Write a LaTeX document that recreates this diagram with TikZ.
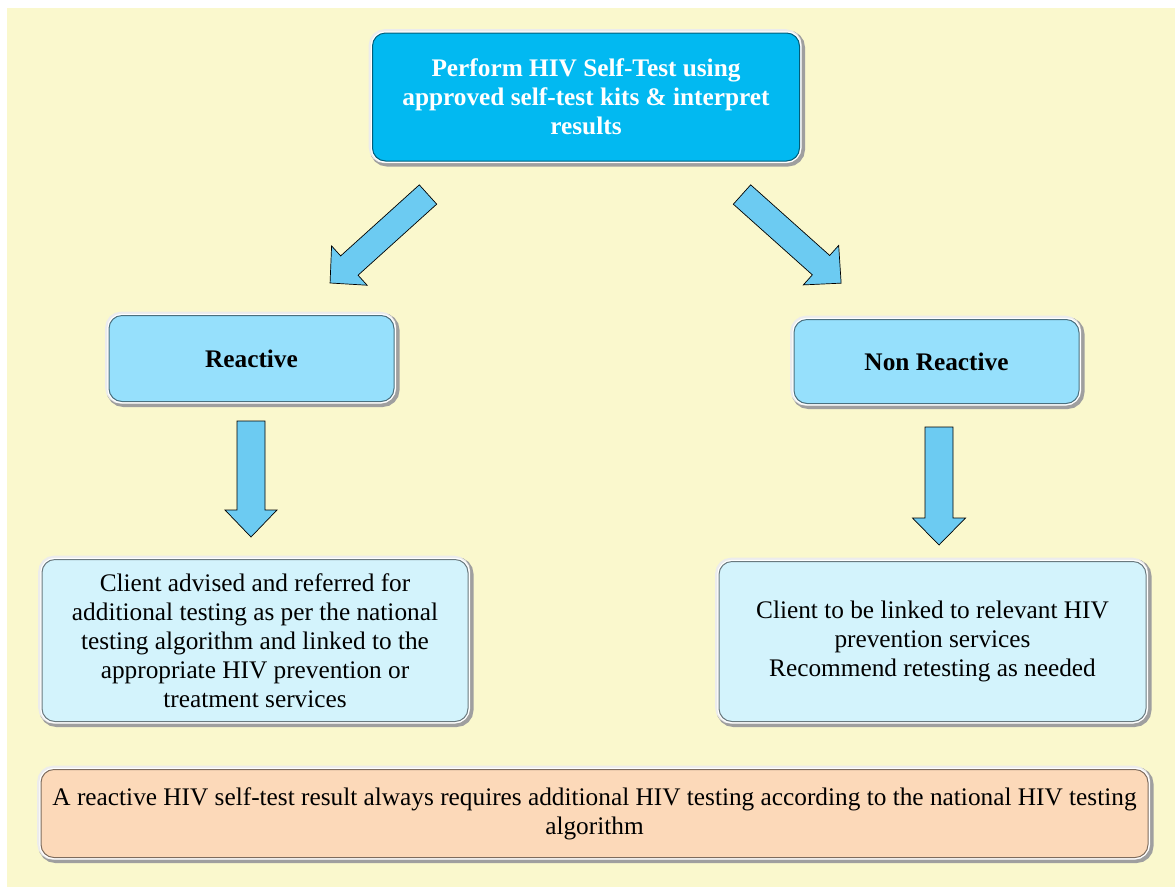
\documentclass[tikz,border=0pt]{standalone}
\usepackage{fontspec}
\setmainfont{Liberation Serif}
\definecolor{bgc}{HTML}{FAF8CD}
\definecolor{topc}{HTML}{02B9F1}
\definecolor{midc}{HTML}{96E0FC}
\definecolor{lowc}{HTML}{D3F3FC}
\definecolor{notec}{HTML}{FCD9B9}
\definecolor{arrc}{HTML}{6CCBF2}
\tikzset{
  framebox/.style={rounded corners=13pt, fill=#1, draw=#1!50!black, line width=1pt,
    preaction={draw=gray!75, line width=8pt, transform canvas={shift={(1.5pt,-1.5pt)}}},
    preaction={draw=gray!15, line width=6pt, transform canvas={shift={(-0.8pt,0.8pt)}}},
    preaction={draw=white, line width=3.5pt},
    align=center, inner sep=0pt},
  blockarrow/.style={fill=arrc, draw=black, line width=0.7pt, line join=miter},
  txt/.style={font=\fontsize{25.3}{29}\selectfont},
  btxt/.style={font=\fontsize{25.3}{29}\selectfont\bfseries}
}
\begin{document}
\begin{tikzpicture}[x=1pt,y=1pt]
\useasboundingbox (0,0) rectangle (1175,-887);
\fill[white] (0,0) rectangle (1175,-887);
\fill[bgc] (7,-8) rectangle (1175,-887);

\node[framebox=topc, minimum width=427, minimum height=128, btxt, text=white]
  (top) at (586,-97) {Perform HIV Self-Test using\\approved self-test kits \& interpret\\results};
\node[framebox=midc, minimum width=285, minimum height=86, btxt]
  (react) at (251.5,-358.5) {Reactive};
\node[framebox=midc, minimum width=285, minimum height=84, btxt]
  (nonreact) at (936.5,-361.5) {Non Reactive};
\node[framebox=lowc, minimum width=426, minimum height=162, txt]
  (left) at (255,-640.5) {Client advised and referred for\\additional testing as per the national\\testing algorithm and linked to the\\appropriate HIV prevention or\\treatment services};
\node[framebox=lowc, minimum width=427, minimum height=160, txt]
  (right) at (932.5,-641.5) {Client to be linked to relevant HIV\\prevention services\\Recommend retesting as needed};
\node[framebox=notec, minimum width=1107, minimum height=88, txt]
  (note) at (594.5,-813.5) {A reactive HIV self-test result always requires additional HIV testing according to the national HIV testing\\algorithm};

% block arrows
\draw[blockarrow, shift={(428,-194.5)}, rotate=222.1]
  (0,-13) -- (106,-13) -- (106,-26.5) -- (132,0) -- (106,26.5) -- (106,13) -- (0,13) -- cycle;
\draw[blockarrow, shift={(742,-194.5)}, rotate=-41.8]
  (0,-13) -- (106,-13) -- (106,-26.5) -- (133,0) -- (106,26.5) -- (106,13) -- (0,13) -- cycle;
\draw[blockarrow, shift={(251,-421)}, rotate=-90]
  (0,-14) -- (89,-14) -- (89,-26) -- (116,0) -- (89,26) -- (89,14) -- (0,14) -- cycle;
\draw[blockarrow, shift={(939,-427)}, rotate=-90]
  (0,-14) -- (91,-14) -- (91,-26.5) -- (118,0) -- (91,26.5) -- (91,14) -- (0,14) -- cycle;
\end{tikzpicture}
\end{document}
